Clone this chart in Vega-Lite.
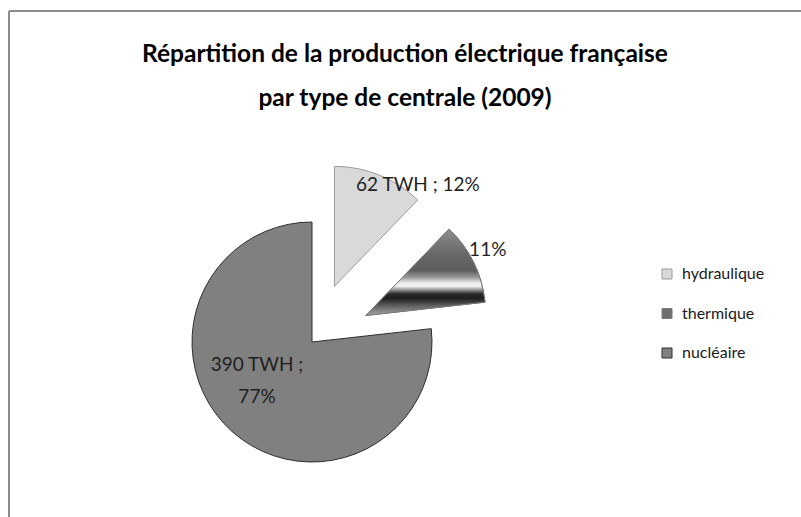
{
  "$schema": "https://vega.github.io/schema/vega-lite/v6.json",
  "width": 792,
  "height": 506,
  "autosize": "none",
  "padding": {"left": 9, "top": 11, "right": 0, "bottom": 0},
  "background": "white",
  "title": {
    "text": ["Répartition de la production électrique française", "par type de centrale (2009)"],
    "orient": "top",
    "anchor": "middle",
    "frame": "group",
    "offset": -125,
    "baseline": "bottom",
    "font": "Lato",
    "fontSize": 24.5,
    "fontWeight": "bold",
    "lineHeight": 44,
    "color": "#000000"
  },
  "data": {
    "values": [
      {"type": "hydraulique", "twh": 62},
      {"type": "thermique", "twh": 56},
      {"type": "nucléaire", "twh": 390}
    ]
  },
  "transform": [
    {"joinaggregate": [{"op": "sum", "field": "twh", "as": "total"}]},
    {"calculate": "indexof(['hydraulique','thermique','nucléaire'], datum.type)", "as": "ordre"},
    {"stack": "twh", "groupby": [], "sort": [{"field": "ordre", "order": "ascending"}], "as": ["t0", "t1"]},
    {"calculate": "PI * (datum.t0 + datum.t1) / datum.total", "as": "mid"},
    {"calculate": "datum.type == 'nucléaire' ? 0 : 0.5", "as": "ex"},
    {"calculate": "datum.ex * sin(datum.mid)", "as": "ox"},
    {"calculate": "datum.ex * cos(datum.mid)", "as": "oy"},
    {"calculate": "format(datum.twh / datum.total, '.0%')", "as": "pct"},
    {"calculate": "datum.type == 'thermique' ? datum.pct : (datum.type == 'nucléaire' ? datum.twh + ' TWH ;\\n' + datum.pct : datum.twh + ' TWH ; ' + datum.pct)", "as": "label"},
    {"calculate": "datum.ex > 0 ? 0.6125 : 0.5", "as": "rl"},
    {"calculate": "datum.ox + datum.rl * sin(datum.mid)", "as": "lx"},
    {"calculate": "datum.oy + datum.rl * cos(datum.mid)", "as": "ly"}
  ],
  "layer": [
    {
      "mark": {"type": "arc", "radius": 120, "strokeWidth": 1},
      "encoding": {
        "x": {"field": "ox", "type": "quantitative", "scale": {"domain": [-2.525, 4.075], "nice": false, "zero": false}, "axis": null},
        "y": {"field": "oy", "type": "quantitative", "scale": {"domain": [-1.4583, 2.7583], "nice": false, "zero": false}, "axis": null},
        "theta": {"field": "t0", "type": "quantitative", "scale": {"domain": [0, 508]}},
        "theta2": {"field": "t1"},
        "color": {
          "field": "type",
          "type": "nominal",
          "scale": {
            "domain": ["hydraulique", "thermique", "nucléaire"],
            "range": ["#d9d9d9", "#6e6e6e", "#808080"]
          },
          "legend": {
            "orient": "none",
            "legendX": 650,
            "legendY": 255,
            "title": null,
            "padding": 0,
            "symbolType": "square",
            "symbolSize": 100,
            "symbolStrokeColor": "#7f7f7f",
            "symbolStrokeWidth": 1,
            "symbolOpacity": 1,
            "labelFont": "Lato",
            "labelFontSize": 16,
            "labelColor": "#1a1a1a",
            "labelOffset": 7,
            "rowPadding": 23.5
          }
        },
        "stroke": {
          "field": "type",
          "type": "nominal",
          "scale": {"domain": ["hydraulique", "thermique", "nucléaire"], "range": ["#9c9c9c", "#7a7a7a", "#2e2e2e"]},
          "legend": null
        }
      }
    },
    {
      "transform": [{"filter": "datum.type == 'thermique'"}],
      "mark": {
        "type": "arc",
        "radius": 120,
        "strokeWidth": 1,
        "stroke": "#7a7a7a",
        "color": {"gradient": "linear", "x1": 0, "y1": 0, "x2": 0, "y2": 1, "stops": [
          {"offset": 0, "color": "#909090"},
          {"offset": 0.15, "color": "#7a7a7a"},
          {"offset": 0.3, "color": "#676767"},
          {"offset": 0.48, "color": "#5e5e5e"},
          {"offset": 0.56, "color": "#9a9a9a"},
          {"offset": 0.62, "color": "#e8e8e8"},
          {"offset": 0.66, "color": "#f5f5f5"},
          {"offset": 0.7, "color": "#9a9a9a"},
          {"offset": 0.75, "color": "#2a2a2a"},
          {"offset": 0.8, "color": "#1e1e1e"},
          {"offset": 0.88, "color": "#5a5a5a"},
          {"offset": 1, "color": "#a8a8a8"}
        ]}
      },
      "encoding": {
        "x": {"field": "ox", "type": "quantitative"},
        "y": {"field": "oy", "type": "quantitative"},
        "theta": {"field": "t0", "type": "quantitative"},
        "theta2": {"field": "t1"}
      }
    },
    {
      "transform": [{"filter": "datum.ex > 0"}],
      "mark": {"type": "text", "font": "Lato", "fontSize": 19, "color": "#1f1f1f", "align": "center", "baseline": "middle", "dx": 56, "dy": -33},
      "encoding": {
        "x": {"field": "lx", "type": "quantitative"},
        "y": {"field": "ly", "type": "quantitative"},
        "text": {"field": "label"}
      }
    },
    {
      "transform": [{"filter": "datum.ex == 0"}],
      "mark": {"type": "text", "font": "Lato", "fontSize": 19, "color": "#1f1f1f", "align": "center", "baseline": "middle", "lineBreak": "\n", "lineHeight": 32, "dx": -15, "dy": -22},
      "encoding": {
        "x": {"field": "lx", "type": "quantitative"},
        "y": {"field": "ly", "type": "quantitative"},
        "text": {"field": "label"}
      }
    },
    {
      "mark": {"type": "rule", "color": "#8c8c8c", "strokeWidth": 2},
      "encoding": {"x": {"datum": -2.525, "type": "quantitative"}}
    },
    {
      "mark": {"type": "rule", "color": "#8c8c8c", "strokeWidth": 2},
      "encoding": {"y": {"datum": 2.7583, "type": "quantitative"}}
    }
  ],
  "config": {
    "view": {"stroke": null}
  }
}
